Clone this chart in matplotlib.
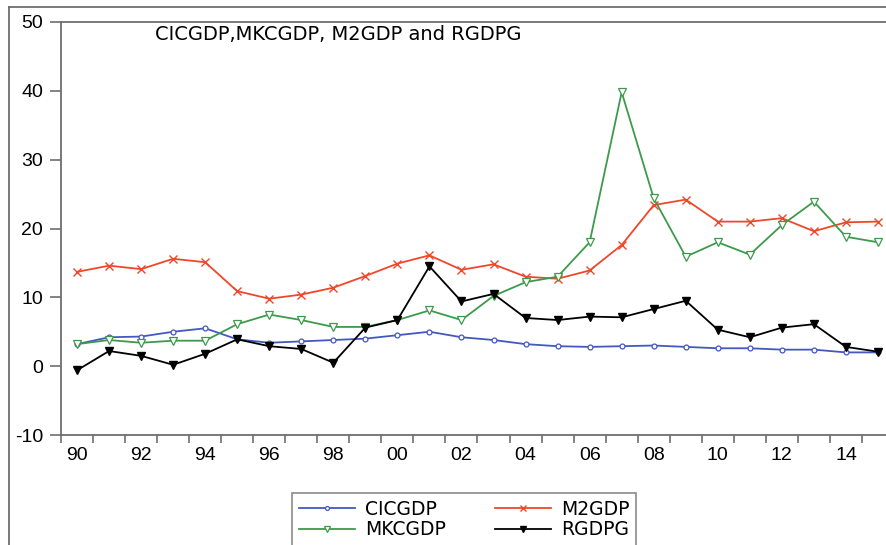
import matplotlib.pyplot as plt
from matplotlib.lines import Line2D
import numpy as np

plt.rcParams['font.family'] = ['Liberation Sans', 'DejaVu Sans']
plt.rcParams['axes.unicode_minus'] = False

years = np.arange(1990, 2016)
year_labels = ['90', '92', '94', '96', '98', '00', '02', '04', '06', '08', '10', '12', '14']

cicgdp = [3.2, 4.2, 4.3, 5.0, 5.5, 3.9, 3.4, 3.6, 3.8, 4.0, 4.5, 5.0, 4.2,
          3.8, 3.2, 2.9, 2.8, 2.9, 3.0, 2.8, 2.6, 2.6, 2.4, 2.4, 2.0, 2.0]
m2gdp = [13.7, 14.6, 14.1, 15.6, 15.1, 10.9, 9.8, 10.4, 11.4, 13.1, 14.9, 16.1, 14.0,
         14.8, 13.0, 12.7, 13.9, 17.6, 23.4, 24.2, 21.0, 21.0, 21.5, 19.6, 20.9, 21.0]
mkcgdp = [3.2, 3.8, 3.4, 3.7, 3.7, 6.1, 7.5, 6.7, 5.7, 5.7, 6.7, 8.1, 6.7,
          10.2, 12.2, 13.0, 18.0, 39.8, 24.4, 15.9, 18.0, 16.2, 20.5, 23.9, 18.8, 18.0]
rgdpg = [-0.6, 2.2, 1.5, 0.2, 1.8, 3.9, 2.9, 2.5, 0.5, 5.6, 6.7, 14.5, 9.4,
         10.5, 7.0, 6.7, 7.2, 7.1, 8.3, 9.5, 5.3, 4.2, 5.6, 6.1, 2.8, 2.1]

W, H = 887, 545
fig = plt.figure(figsize=(W / 100, H / 100), dpi=100)
ax = fig.add_axes([61 / W, 1 - 435 / H, 833 / W, 413 / H])

grey = '#6e6e6e'
h1, = ax.plot(years, cicgdp, color='#4358c0', lw=1.3, marker='o', ms=3.5,
              mfc='white', mec='#4358c0', mew=0.9, label='CICGDP')
h3, = ax.plot(years, m2gdp, color='#f0472a', lw=1.3, marker='x', ms=6,
              mew=1.0, label='M2GDP')
h2, = ax.plot(years, mkcgdp, color='#3d9a4c', lw=1.3, marker='v', ms=6,
              mfc='white', mec='#3d9a4c', mew=0.9, label='MKCGDP')
h4, = ax.plot(years, rgdpg, color='black', lw=1.3, marker='v', ms=6,
              label='RGDPG')

ax.set_xlim(1989.5, 2015.5)
ax.set_ylim(-10, 50)
ax.set_yticks(np.arange(-10, 51, 10))
ax.tick_params(axis='y', direction='out', length=8, width=1.2, color=grey,
               labelsize=14, pad=5)

# tick marks at year boundaries, labels under every other year
ax.set_xticks(np.arange(1989.5, 2016, 1.0))
ax.set_xticklabels([])
ax.set_xticks(np.arange(1990, 2016, 2), minor=True)
ax.set_xticklabels(year_labels, minor=True)
ax.tick_params(axis='x', which='major', direction='out', length=6, width=1.2, color=grey)
ax.tick_params(axis='x', which='minor', length=0, labelsize=14, pad=9)

for s in ax.spines.values():
    s.set_color(grey)
    s.set_linewidth(1.3)

ax.text((155 - 61) / 833, (435 - 34) / 413, 'CICGDP,MKCGDP, M2GDP and RGDPG',
        transform=ax.transAxes, fontsize=14, va='center', ha='left',
        family='DejaVu Sans')

# outer frame of the picture
fig.add_artist(Line2D([9 / W, 9 / W], [0, 1 - 7 / H], color=grey, lw=1.3))
fig.add_artist(Line2D([9 / W, 1], [1 - 7 / H, 1 - 7 / H], color=grey, lw=1.3))

leg = fig.legend(handles=[h1, h2, h3, h4], ncol=2, loc='upper left',
                 bbox_to_anchor=(292 / W, 1 - 493 / H),
                 prop={'family': 'DejaVu Sans', 'size': 13.5},
                 frameon=True, fancybox=False, edgecolor=grey, borderaxespad=0,
                 handlelength=3.0, handletextpad=0.55, columnspacing=2.6,
                 labelspacing=0.1, borderpad=0.35, markerscale=0.8)
leg.get_frame().set_linewidth(1.2)

fig.savefig('out.png', dpi=100)
